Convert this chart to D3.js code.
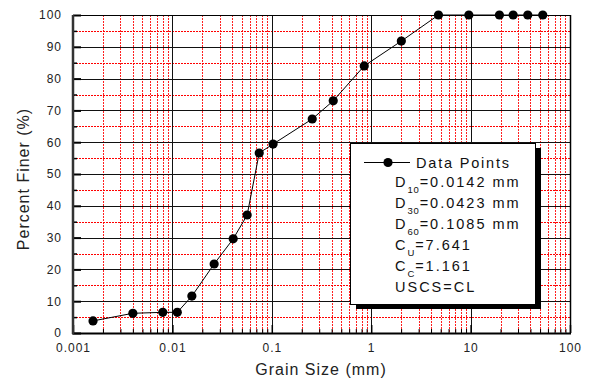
<!DOCTYPE html>
<html>
<head>
<meta charset="utf-8">
<script src="https://cdn.jsdelivr.net/npm/d3@7"></script>
<style>
  body { margin: 0; background: #fff; }
  svg { display: block; font-family: "Liberation Sans", Arial, sans-serif; }
</style>
</head>
<body>
<svg width="592" height="378"></svg>
<script>
// grain size (mm) and percent finer
const grainSize = [0.00159, 0.0040, 0.0080, 0.0112, 0.0157, 0.0263, 0.0409, 0.0565, 0.0747, 0.103,
                   0.255, 0.415, 0.851, 2.01, 4.75, 9.6, 19.5, 26.8, 37.6, 53.2];
const percentFiner = [3.8, 6.2, 6.5, 6.5, 11.6, 21.7, 29.6, 37.1, 56.6, 59.4,
                      67.3, 73.0, 84.0, 91.8, 100, 100, 100, 100, 100, 100];

const xTicks = [0.001, 0.01, 0.1, 1, 10, 100];
const xTickLabels = ["0.001", "0.01", "0.1", "1", "10", "100"];
const yTicks = [0, 10, 20, 30, 40, 50, 60, 70, 80, 90, 100];

const legendLines = [
  ["D", "10", "=0.0142 mm"],
  ["D", "30", "=0.0423 mm"],
  ["D", "60", "=0.1085 mm"],
  ["C", "U", "=7.641"],
  ["C", "C", "=1.161"],
  ["USCS=CL", "", ""]
];

const svg = d3.select("svg");
const pl = 73, pr = 570, pt = 15, pb = 333;

const x = d3.scaleLog().domain([0.001, 100]).range([pl, pr]);
const y = d3.scaleLinear().domain([0, 100]).range([pb, pt]);

// minor values: 2..9 per decade, 5-steps on y
const xMinor = [];
for (let e = -3; e < 2; e++) {
  for (let m = 2; m <= 9; m++) xMinor.push(m * Math.pow(10, e));
}
const yMinor = d3.range(5, 100, 10);

const grid = svg.append("g");

grid.selectAll(".vminor")
  .data(xMinor)
  .join("line")
  .attr("x1", d => Math.round(x(d)) + 0.5)
  .attr("x2", d => Math.round(x(d)) + 0.5)
  .attr("y1", pt).attr("y2", pb)
  .attr("stroke", "#ff2020")
  .attr("stroke-dasharray", "2,1");

grid.selectAll(".hminor")
  .data(yMinor)
  .join("line")
  .attr("x1", pl).attr("x2", pr)
  .attr("y1", d => Math.round(y(d)) + 0.5)
  .attr("y2", d => Math.round(y(d)) + 0.5)
  .attr("stroke", "#ff0000")
  .attr("stroke-dasharray", "2,1");

grid.selectAll(".hmajor")
  .data(yTicks.slice(1, -1))
  .join("line")
  .attr("x1", pl).attr("x2", pr)
  .attr("y1", d => Math.round(y(d)) + 0.5)
  .attr("y2", d => Math.round(y(d)) + 0.5)
  .attr("stroke", "#111");

grid.selectAll(".vmajor")
  .data(xTicks.slice(1, -1))
  .join("line")
  .attr("x1", d => Math.round(x(d)) + 0.5)
  .attr("x2", d => Math.round(x(d)) + 0.5)
  .attr("y1", pt).attr("y2", pb)
  .attr("stroke", "#111");

// axes: labels and inward ticks
const xAxis = svg.append("g")
  .attr("transform", `translate(0,${pb})`)
  .call(d3.axisBottom(x).tickValues(xTicks).tickFormat((d, i) => xTickLabels[i])
    .tickSizeInner(-8).tickSizeOuter(0).tickPadding(10));
xAxis.select(".domain").remove();
xAxis.selectAll("text")
  .attr("font-size", 12).attr("letter-spacing", 1)
  .attr("fill", "#222").attr("font-family", "Liberation Sans, Arial, sans-serif");
xAxis.selectAll("line").attr("stroke", "#000").attr("stroke-width", 1.5);

const xAxisMinor = svg.append("g")
  .attr("transform", `translate(0,${pb})`)
  .call(d3.axisBottom(x).tickValues(xMinor).tickFormat("").tickSizeInner(-4).tickSizeOuter(0));
xAxisMinor.select(".domain").remove();
xAxisMinor.selectAll("line").attr("stroke", "#000");

const yAxis = svg.append("g")
  .attr("transform", `translate(${pl},0)`)
  .call(d3.axisLeft(y).tickValues(yTicks).tickSizeInner(-8).tickSizeOuter(0).tickPadding(11));
yAxis.select(".domain").remove();
yAxis.selectAll("text")
  .attr("font-size", 12).attr("letter-spacing", 1)
  .attr("fill", "#222").attr("font-family", "Liberation Sans, Arial, sans-serif");
yAxis.selectAll("line").attr("stroke", "#000").attr("stroke-width", 2);

const yAxisMinor = svg.append("g")
  .attr("transform", `translate(${pl},0)`)
  .call(d3.axisLeft(y).tickValues(yMinor).tickFormat("").tickSizeInner(-4).tickSizeOuter(0));
yAxisMinor.select(".domain").remove();
yAxisMinor.selectAll("line").attr("stroke", "#000").attr("stroke-width", 1.5);

// frame
svg.append("line").attr("x1", pl).attr("x2", pr + 1).attr("y1", pt + 0.5).attr("y2", pt + 0.5)
  .attr("stroke", "#000");
svg.append("line").attr("x1", pr + 0.5).attr("x2", pr + 0.5).attr("y1", pt).attr("y2", pb)
  .attr("stroke", "#000").attr("stroke-width", 1.5);
svg.append("line").attr("x1", pl - 1).attr("x2", pr + 1).attr("y1", pb + 0.5).attr("y2", pb + 0.5)
  .attr("stroke", "#000").attr("stroke-width", 2);
svg.append("line").attr("x1", pl).attr("x2", pl).attr("y1", pt).attr("y2", pb + 1)
  .attr("stroke", "#333").attr("stroke-width", 2.5);

// data curve
const line = d3.line()
  .x((d, i) => x(grainSize[i]))
  .y(d => y(d));

svg.append("path")
  .datum(percentFiner)
  .attr("d", line)
  .attr("fill", "none")
  .attr("stroke", "#000")
  .attr("stroke-width", 1);

svg.selectAll(".pt")
  .data(percentFiner)
  .join("circle")
  .attr("cx", (d, i) => x(grainSize[i]))
  .attr("cy", d => y(d))
  .attr("r", 4.6)
  .attr("fill", "#000");

// axis titles
svg.append("text")
  .attr("x", 321).attr("y", 375)
  .attr("text-anchor", "middle")
  .attr("font-size", 16).attr("letter-spacing", 1)
  .attr("fill", "#222")
  .text("Grain Size (mm)");

svg.append("text")
  .attr("transform", "translate(29,179) rotate(-90)")
  .attr("text-anchor", "middle")
  .attr("font-size", 16).attr("letter-spacing", 1)
  .attr("fill", "#222")
  .text("Percent Finer (%)");

// legend box
const lg = svg.append("g");
lg.append("rect").attr("x", 356).attr("y", 148).attr("width", 185).attr("height", 161).attr("fill", "#000");
lg.append("rect").attr("x", 350.5).attr("y", 143.5).attr("width", 185).attr("height", 161)
  .attr("fill", "#fff").attr("stroke", "#000");

lg.append("line").attr("x1", 364).attr("x2", 410).attr("y1", 162.5).attr("y2", 162.5).attr("stroke", "#000");
lg.append("circle").attr("cx", 388).attr("cy", 162.5).attr("r", 4.6).attr("fill", "#000");
lg.append("text").attr("x", 416).attr("y", 167.5)
  .attr("font-size", 14.5).attr("letter-spacing", 1.8).attr("fill", "#111")
  .text("Data Points");

legendLines.forEach((row, i) => {
  const t = lg.append("text")
    .attr("x", 395).attr("y", 187 + i * 20.9)
    .attr("font-size", 14.5).attr("letter-spacing", 2).attr("fill", "#111");
  t.append("tspan").text(row[0]);
  if (row[1]) {
    t.append("tspan").attr("font-size", 9.5).attr("letter-spacing", 0.8).attr("dy", 6).text(row[1]);
    t.append("tspan").attr("dy", -6).text(row[2]);
  }
});
</script>
</body>
</html>
